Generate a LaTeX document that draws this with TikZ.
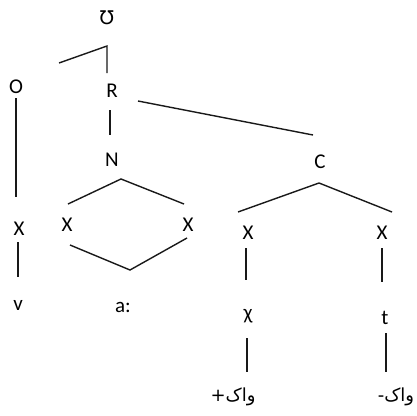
\documentclass[tikz,border=0pt]{standalone}
\usepackage{fontspec}
\setmainfont{Carlito}
\newfontfamily\dejavu{DejaVu Sans}
\newfontfamily\arabicfont[Script=Arabic]{DejaVu Sans}
\TeXXeTstate=1
\begin{document}
\begin{tikzpicture}[x=1pt,y=-1pt,
  lbl/.style={font=\fontsize{21}{24}\selectfont, inner sep=0pt},
  arlbl/.style={font=\arabicfont\fontsize{18}{21}\selectfont, inner sep=0pt},
  ln/.style={line width=1.4pt, black!90}]
\useasboundingbox (0,0) rectangle (417,415);
% labels
\node[lbl, font=\dejavu\fontsize{19}{21}\selectfont] (sig) at (107,18) {Ʊ};
\node[lbl] (O) at (16,87) {O};
\node[lbl] (R) at (112,91) {R};
\node[lbl] (N) at (112,160) {N};
\node[lbl] (X1) at (19,229) {X};
\node[lbl] (X2) at (67,225) {X};
\node[lbl] (X3) at (188,225) {X};
\node[lbl] (v) at (18,305) {v};
\node[lbl] (a) at (123,307) {a:};
\node[lbl] (C) at (320,162) {C};
\node[lbl] (X4) at (248,233) {X};
\node[lbl] (X5) at (382,233) {X};
\node[lbl] (chi) at (248,316) {χ};
\node[lbl] (t) at (385,318) {t};
\node[arlbl] (plus) at (233,397) {+\beginR واک\endR};
\node[arlbl] (minus) at (396,397) {-\beginR واک\endR};
% connector end points
\coordinate (sL) at (59,63);
\coordinate (sC) at (107,46);
\coordinate (sR) at (107,73);
\coordinate (o1) at (16,98);
\coordinate (o2) at (16,197);
\coordinate (x1a) at (18,242);
\coordinate (x1b) at (18,277);
\coordinate (rn1) at (110,110);
\coordinate (rn2) at (110,135);
\coordinate (rc1) at (138,101);
\coordinate (rc2) at (313,135);
\coordinate (dTL) at (68,204);
\coordinate (dT) at (121,179);
\coordinate (dTR) at (184,204);
\coordinate (dBL) at (70,245);
\coordinate (dB) at (130,270);
\coordinate (dBR) at (187,238);
\coordinate (cL) at (238,212);
\coordinate (cT) at (319,183);
\coordinate (cR) at (392,212);
\coordinate (x4a) at (246,248);
\coordinate (x4b) at (246,280);
\coordinate (x5a) at (382,248);
\coordinate (x5b) at (382,282);
\coordinate (ch1) at (247,338);
\coordinate (ch2) at (247,372);
\coordinate (t1) at (386,333);
\coordinate (t2) at (386,372);
% connectors
\draw[ln] (sL) -- (sC) -- (sR);
\draw[ln] (o1) -- (o2);
\draw[ln] (x1a) -- (x1b);
\draw[ln] (rn1) -- (rn2);
\draw[ln] (rc1) -- (rc2);
\draw[ln] (dTL) -- (dT) -- (dTR);
\draw[ln] (dBL) -- (dB) -- (dBR);
\draw[ln] (cL) -- (cT) -- (cR);
\draw[ln] (x4a) -- (x4b);
\draw[ln] (x5a) -- (x5b);
\draw[ln] (ch1) -- (ch2);
\draw[ln] (t1) -- (t2);
\end{tikzpicture}
\end{document}
